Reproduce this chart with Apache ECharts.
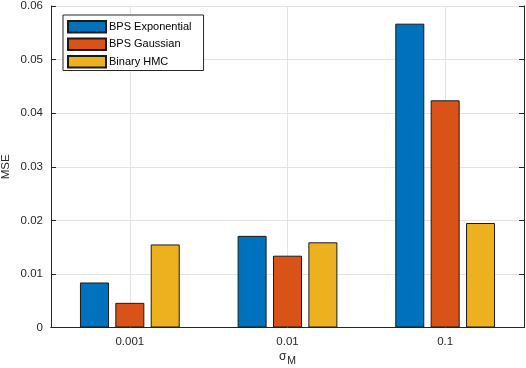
<!DOCTYPE html>
<html>
<head>
<meta charset="utf-8">
<script src="https://cdn.jsdelivr.net/npm/echarts@6/dist/echarts.min.js"></script>
<style>
  html, body { margin: 0; padding: 0; background: #fff; }
  #chart { width: 526px; height: 368px; }
</style>
</head>
<body>
<div id="chart"></div>
<script>
// sigma_M levels on the x axis
var categories = ['0.001', '0.01', '0.1'];
var seriesNames = ['BPS Exponential', 'BPS Gaussian', 'Binary HMC'];
// MSE per method
var bpsExponential = [0.0084, 0.0171, 0.0567];
var bpsGaussian = [0.0046, 0.0134, 0.0424];
var binaryHmc = [0.0155, 0.0159, 0.0195];
var colors = ['#0072BD', '#D95319', '#EDB120'];

var txt = '#262626';
var font = 'Liberation Sans, Arial, Helvetica, sans-serif';

function barSeries(name, data, color) {
    return {
        name: name,
        type: 'bar',
        xAxisIndex: 0,
        yAxisIndex: 0,
        data: data,
        barWidth: 29,
        barGap: '22%',
        z: 3,
        itemStyle: { color: color, borderColor: '#1a1a1a', borderWidth: 1 },
        emphasis: { disabled: true }
    };
}

var chart = echarts.init(document.getElementById('chart'));
var option = {
    animation: false,
    textStyle: { fontFamily: font, color: txt },
    grid: { left: 51, right: 2, top: 6, bottom: 40.5, containLabel: false, outerBoundsMode: 'none' },
    legend: {
        data: seriesNames,
        orient: 'vertical',
        left: 63,
        top: 15,
        padding: [5, 12, 2, 4],
        itemWidth: 38,
        itemHeight: 11.5,
        itemGap: 4,
        icon: 'rect',
        backgroundColor: '#fff',
        borderColor: txt,
        borderWidth: 1,
        textStyle: { fontFamily: font, fontSize: 11, color: '#000', padding: [0, 0, 0, -2] }
    },
    xAxis: [{
        type: 'category',
        data: categories,
        position: 'bottom',
        name: '{s|σ}{m|M}',
        nameLocation: 'middle',
        nameGap: 23,
        nameMoveOverlap: false,
        nameTextStyle: {
            rich: {
                s: { fontFamily: font, fontSize: 12, color: txt, verticalAlign: 'top', lineHeight: 12 },
                m: { fontFamily: font, fontSize: 10.5, color: txt, verticalAlign: 'bottom', lineHeight: 16, padding: [0, 0, 0, 1] }
            }
        },
        axisLine: { lineStyle: { color: txt } },
        axisTick: { inside: true, alignWithLabel: true, length: 5, lineStyle: { color: txt } },
        axisLabel: { fontFamily: font, fontSize: 11.5, color: txt, margin: 8 },
        splitLine: { show: false }
    }, {
        type: 'category',
        data: categories,
        position: 'top',
        axisLine: { lineStyle: { color: txt } },
        axisTick: { inside: true, alignWithLabel: true, length: 5, lineStyle: { color: txt } },
        axisLabel: { show: false },
        splitLine: { show: false }
    }],
    yAxis: [{
        type: 'value',
        min: 0,
        max: 0.06,
        interval: 0.01,
        position: 'left',
        name: 'MSE',
        nameLocation: 'middle',
        nameGap: 39,
        nameMoveOverlap: false,
        nameTextStyle: { fontFamily: font, fontSize: 11.5, color: txt },
        axisLine: { show: true, lineStyle: { color: txt } },
        axisTick: { show: true, inside: true, length: 5, lineStyle: { color: txt } },
        axisLabel: { fontFamily: font, fontSize: 11.5, color: txt, margin: 8 },
        splitLine: { show: true, lineStyle: { color: '#e3e3e3', width: 1 } }
    }, {
        type: 'value',
        min: 0,
        max: 0.06,
        interval: 0.01,
        position: 'right',
        axisLine: { show: true, lineStyle: { color: txt } },
        axisTick: { show: true, inside: true, length: 5, lineStyle: { color: txt } },
        axisLabel: { show: false },
        splitLine: { show: false }
    }],
    series: [
        {
            // vertical grid lines at the category ticks, kept under the bars
            type: 'line',
            xAxisIndex: 0,
            yAxisIndex: 0,
            data: [],
            z: 1,
            silent: true,
            markLine: {
                z: 1,
                silent: true,
                symbol: 'none',
                label: { show: false },
                lineStyle: { color: '#e3e3e3', width: 1, type: 'solid' },
                data: categories.map(function (c) { return { xAxis: c }; })
            }
        },
        barSeries(seriesNames[0], bpsExponential, colors[0]),
        barSeries(seriesNames[1], bpsGaussian, colors[1]),
        barSeries(seriesNames[2], binaryHmc, colors[2])
    ]
};
chart.setOption(option);
</script>
</body>
</html>
